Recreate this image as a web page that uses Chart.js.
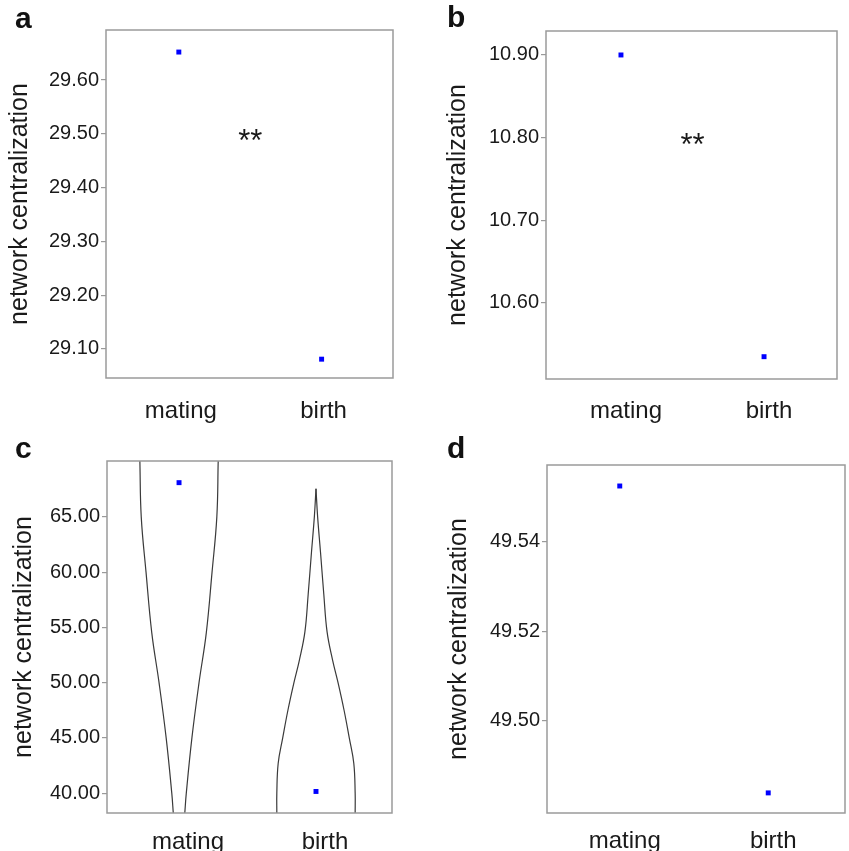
<!DOCTYPE html>
<html>
<head>
<meta charset="utf-8">
<script src="https://cdn.jsdelivr.net/npm/chart.js@4.4.1/dist/chart.umd.min.js"></script>
<style>
    body { margin: 0; background: #fff; }
    #page { position: relative; width: 849px; height: 851px; background: #fff; overflow: hidden; }
    canvas { position: absolute; }
    .tag { position: absolute; font: bold 30px "Liberation Sans", Arial, sans-serif; line-height: 30px; color: #111; }
</style>
</head>
<body>
<div id="page">
    <canvas id="chartA" width="424" height="425" style="left:0;top:0"></canvas>
    <canvas id="chartB" width="424" height="425" style="left:425px;top:0"></canvas>
    <canvas id="chartC" width="424" height="426" style="left:0;top:425px"></canvas>
    <canvas id="chartD" width="424" height="426" style="left:425px;top:425px"></canvas>
    <div class="tag" style="left:15px;top:3px">a</div>
    <div class="tag" style="left:447px;top:2px">b</div>
    <div class="tag" style="left:15px;top:433px">c</div>
    <div class="tag" style="left:447px;top:433px">d</div>
</div>
<script>
// categories on the x axis (placed at 1 and 2)
const categories = ["mating", "birth"];
const xPos = [1, 2];
const yTitle = "network centralization";

// panel a
const valuesA = [29.652, 29.081];
const ticksA = [29.10, 29.20, 29.30, 29.40, 29.50, 29.60];
const rangeA = [29.046, 29.693];

// panel b
const valuesB = [10.90, 10.535];
const ticksB = [10.60, 10.70, 10.80, 10.90];
const rangeB = [10.508, 10.929];

// panel c
const valuesC = [68.1, 40.15];
const ticksC = [40, 45, 50, 55, 60, 65];
const rangeC = [38.2, 70.06];

// violin outlines in panel c (half width in category units)
const matingViolinY = [38.2, 40, 45, 50, 54.5, 60, 65, 70.06];
const matingViolinHalf = [0.042, 0.053, 0.094, 0.146, 0.199, 0.241, 0.276, 0.286];
const birthViolinY = [38.2, 40, 42.7, 45, 47.5, 50, 52, 54.6, 58, 61.8, 65, 67.55];
const birthViolinHalf = [0.286, 0.286, 0.276, 0.243, 0.205, 0.161, 0.122, 0.081, 0.057, 0.033, 0.012, 0];

// panel d
const valuesD = [49.5525, 49.4838];
const ticksD = [49.50, 49.52, 49.54];
const rangeD = [49.4793, 49.5572];

// significance marks
const sigText = "**";
const sigA = 29.50;
const sigB = 10.80;

const FONT = "'Liberation Sans', Arial, sans-serif";
const TEXT = "#1a1a1a";
const FRAME = "#9a9a9a";

// box round the plot area
const framePlugin = {
    id: 'frame',
    afterDraw(chart) {
        const a = chart.chartArea;
        const ctx = chart.ctx;
        ctx.save();
        ctx.strokeStyle = FRAME;
        ctx.lineWidth = 1.5;
        ctx.strokeRect(a.left, a.top, a.right - a.left, a.bottom - a.top);
        ctx.restore();
    }
};

// "**" between the two groups
const sigPlugin = {
    id: 'sig',
    afterDatasetsDraw(chart, args, opts) {
        if (opts.y === undefined) return;
        const ctx = chart.ctx;
        const x = chart.scales.x.getPixelForValue(1.5);
        const y = chart.scales.y.getPixelForValue(opts.y);
        ctx.save();
        ctx.font = "31px " + FONT;
        ctx.fillStyle = TEXT;
        ctx.textAlign = 'center';
        ctx.textBaseline = 'alphabetic';
        ctx.fillText(opts.text, x, y + 17);
        ctx.restore();
    }
};

function makePanel(id, p) {
    let datasets = [{
        data: p.values.map((v, i) => ({ x: xPos[i], y: v })),
        pointStyle: 'rect',
        pointRadius: 3.5,
        backgroundColor: '#0000ff',
        borderWidth: 0
    }];

    (p.violins || []).forEach(function(v) {
        [-1, 1].forEach(function(side) {
            datasets.push({
                data: v.y.map((y, i) => ({ x: v.center + side * v.half[i], y: y })),
                showLine: true,
                pointRadius: 0,
                borderColor: '#3a3a3a',
                borderWidth: 1.2,
                tension: 0.4
            });
        });
    });

    return new Chart(document.getElementById(id), {
        type: 'scatter',
        data: { datasets: datasets },
        options: {
            responsive: false,
            animation: false,
            events: [],
            layout: { padding: p.pad },
            plugins: {
                legend: { display: false },
                tooltip: { enabled: false },
                sig: p.sig || {}
            },
            scales: {
                x: {
                    type: 'linear',
                    bounds: 'data',
                    min: p.xRange[0],
                    max: p.xRange[1],
                    afterBuildTicks: s => { s.ticks = xPos.map(v => ({ value: v })); },
                    afterFit: s => { s.height = p.xHeight; },
                    grid: { display: false },
                    border: { display: false },
                    ticks: {
                        callback: v => categories[xPos.indexOf(v)],
                        padding: p.xPad,
                        labelOffset: p.xShift,
                        maxRotation: 0,
                        color: TEXT,
                        font: { family: FONT, size: 24 }
                    }
                },
                y: {
                    type: 'linear',
                    bounds: 'data',
                    min: p.range[0],
                    max: p.range[1],
                    afterBuildTicks: s => { s.ticks = p.ticks.map(v => ({ value: v })); },
                    afterFit: s => { s.width = p.yWidth; },
                    grid: { drawOnChartArea: false, drawTicks: true, tickLength: 5, color: FRAME, lineWidth: 1.2 },
                    border: { display: false },
                    ticks: {
                        callback: v => v.toFixed(2),
                        padding: 2,
                        color: TEXT,
                        font: { family: FONT, size: 20 }
                    },
                    title: {
                        display: true,
                        text: yTitle,
                        padding: 0,
                        color: TEXT,
                        font: { family: FONT, size: 25 }
                    }
                }
            }
        },
        plugins: [framePlugin, sigPlugin]
    });
}

makePanel('chartA', {
    values: valuesA, ticks: ticksA, range: rangeA, xRange: [0.49, 2.50],
    pad: { left: 5, top: 30, right: 31, bottom: 0 }, yWidth: 101, xHeight: 47, xPad: 11, xShift: 2,
    sig: { text: sigText, y: sigA }
});

makePanel('chartB', {
    values: valuesB, ticks: ticksB, range: rangeB, xRange: [0.476, 2.51],
    pad: { left: 18, top: 31, right: 12, bottom: 0 }, yWidth: 103, xHeight: 46, xPad: 10, xShift: 5,
    sig: { text: sigText, y: sigB }
});

makePanel('chartC', {
    values: valuesC, ticks: ticksC, range: rangeC, xRange: [0.474, 2.555],
    pad: { left: 9, top: 36, right: 32, bottom: 0 }, yWidth: 98, xHeight: 38, xPad: 7, xShift: 9,
    violins: [
        { center: xPos[0], y: matingViolinY, half: matingViolinHalf },
        { center: xPos[1], y: birthViolinY, half: birthViolinHalf }
    ]
});

makePanel('chartD', {
    values: valuesD, ticks: ticksD, range: rangeD, xRange: [0.51, 2.517],
    pad: { left: 19, top: 40, right: 3, bottom: 0 }, yWidth: 103, xHeight: 38, xPad: 6, xShift: 5
});
</script>
</body>
</html>
